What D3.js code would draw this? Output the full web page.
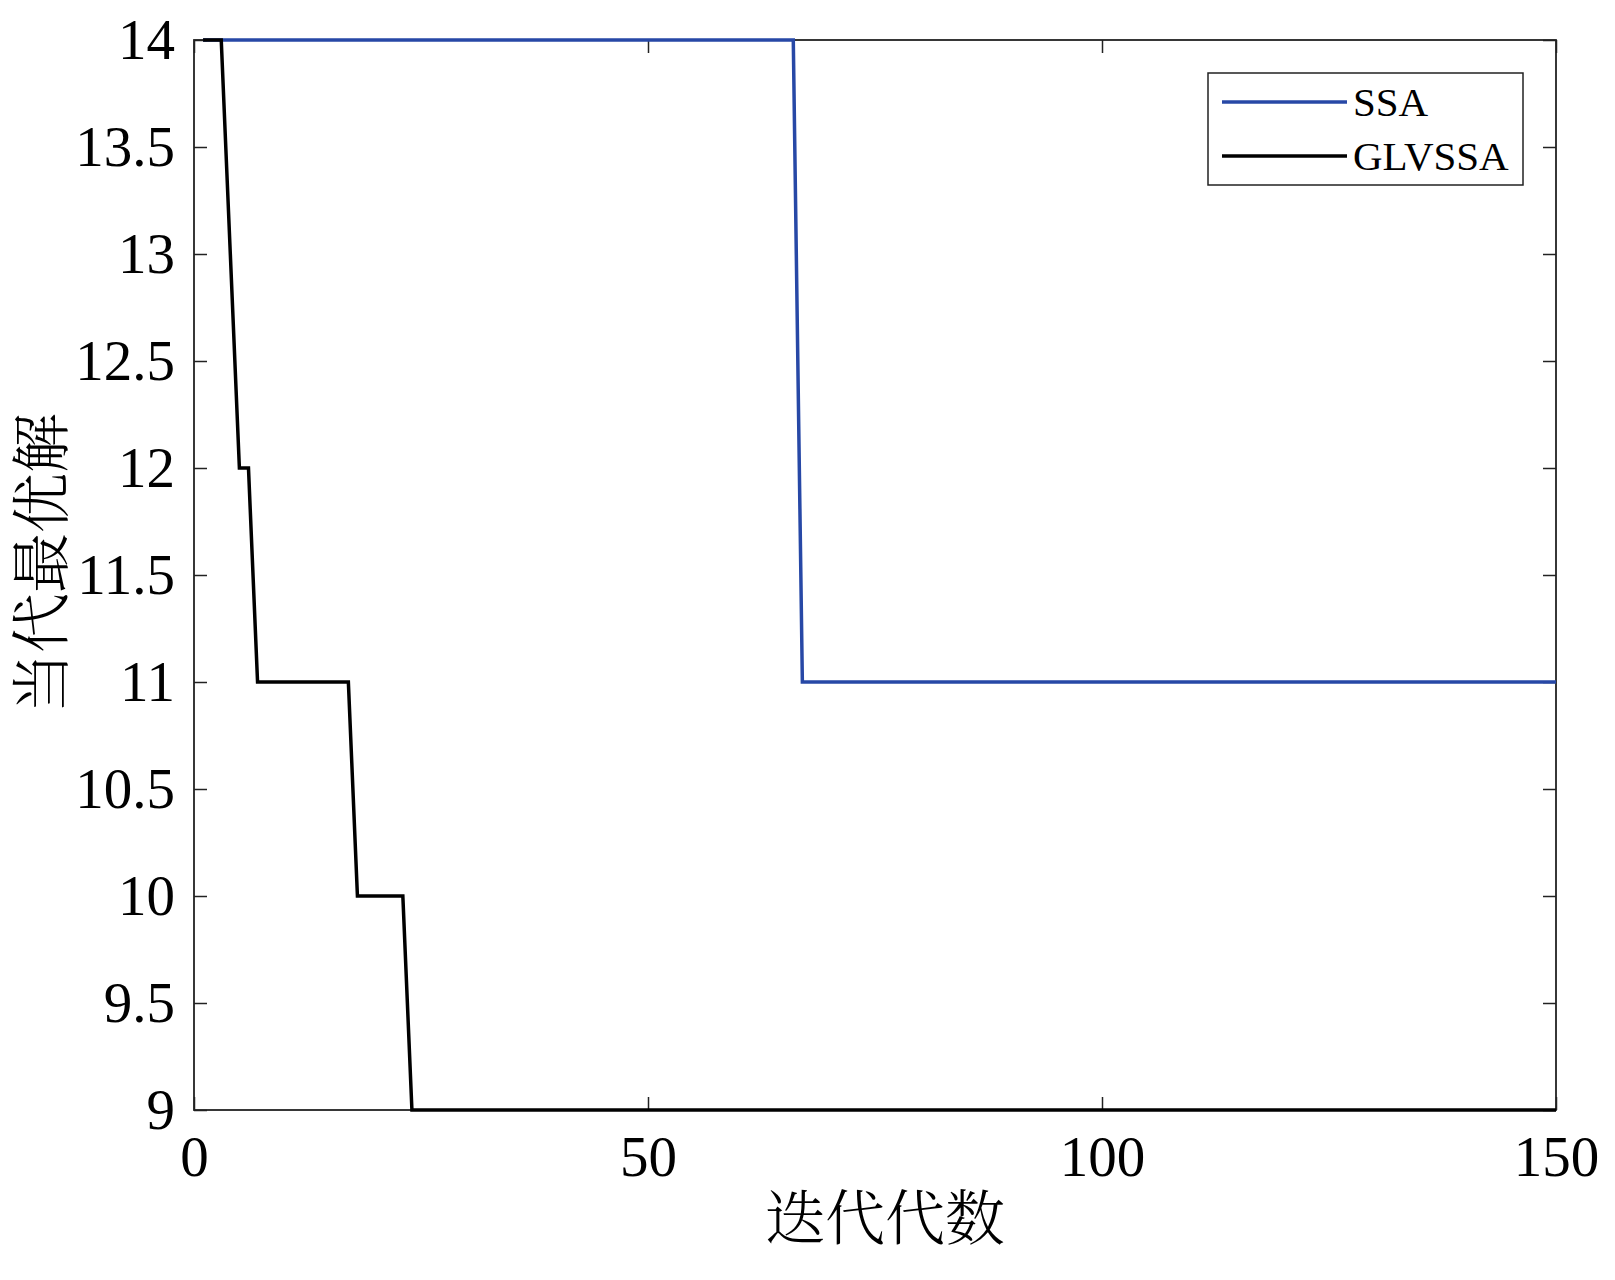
<!DOCTYPE html>
<html>
<head>
<meta charset="utf-8">
<script src="https://cdn.jsdelivr.net/npm/d3@7"></script>
<style>
  html, body { margin: 0; padding: 0; background: #fff; }
  svg { display: block; }
</style>
</head>
<body>
<svg id="chart" width="1615" height="1280"></svg>
<script>
// ---- data ----
const xTicks = [0, 50, 100, 150];
const yTicks = [9, 9.5, 10, 10.5, 11, 11.5, 12, 12.5, 13, 13.5, 14];
const seriesNames = ["SSA", "GLVSSA"];
const ssaIter = [1, 66, 67, 150];
const ssaVal  = [14, 14, 11, 11];
const glvIter = [1, 3, 4, 5, 6, 7, 17, 18, 23, 24, 150];
const glvVal  = [14, 14, 13, 12, 12, 11, 11, 10, 10, 9, 9];
const xTitle = "迭代代数";
const yTitle = "当代最优解";

// ---- layout ----
const L = 194, R = 1556, T = 40, B = 1110;
const svg = d3.select("#chart");
const x = d3.scaleLinear().domain([0, 150]).range([L, R]);
const y = d3.scaleLinear().domain([9, 14]).range([B, T]);
const serif = "'Liberation Serif', 'Times New Roman', serif";
const axisColor = "#222";
const tickLen = 13;

function styleAxis(g, showLabels) {
  g.select(".domain").remove();
  g.selectAll(".tick line").attr("stroke", axisColor).attr("stroke-width", 1.5);
  g.selectAll(".tick text")
    .attr("fill", "#000")
    .style("font-family", serif)
    .style("font-size", "57px");
  if (!showLabels) g.selectAll(".tick text").remove();
}

// bottom axis
svg.append("g").attr("transform", `translate(0,${B})`)
  .call(d3.axisBottom(x).tickValues(xTicks).tickFormat(d3.format("d"))
        .tickSizeInner(-tickLen).tickSizeOuter(0).tickPadding(26))
  .call(g => styleAxis(g, true));
// top axis (ticks only)
svg.append("g").attr("transform", `translate(0,${T})`)
  .call(d3.axisTop(x).tickValues(xTicks).tickSizeInner(-tickLen).tickSizeOuter(0))
  .call(g => styleAxis(g, false));
// left axis
svg.append("g").attr("transform", `translate(${L},0)`)
  .call(d3.axisLeft(y).tickValues(yTicks).tickFormat(d => String(d))
        .tickSizeInner(-tickLen).tickSizeOuter(0).tickPadding(19))
  .call(g => styleAxis(g, true));
// right axis (ticks only)
svg.append("g").attr("transform", `translate(${R},0)`)
  .call(d3.axisRight(y).tickValues(yTicks).tickSizeInner(-tickLen).tickSizeOuter(0))
  .call(g => styleAxis(g, false));

// frame
svg.append("rect")
  .attr("x", L).attr("y", T).attr("width", R - L).attr("height", B - T)
  .attr("fill", "none").attr("stroke", axisColor).attr("stroke-width", 1.8);

// lines
const colors = ["#2748a6", "#000000"];
const line = d3.line().x(d => x(d[0])).y(d => y(d[1]));
const ssaData = ssaIter.map((d, i) => [d, ssaVal[i]]);
const glvData = glvIter.map((d, i) => [d, glvVal[i]]);
[ssaData, glvData].forEach((data, i) => {
  svg.append("path").datum(data)
    .attr("d", line)
    .attr("fill", "none")
    .attr("stroke", colors[i])
    .attr("stroke-width", 3.5)
    .attr("stroke-linejoin", "miter");
});

// legend
const lg = svg.append("g");
lg.append("rect").attr("x", 1208).attr("y", 73).attr("width", 315).attr("height", 112)
  .attr("fill", "#fff").attr("stroke", axisColor).attr("stroke-width", 1.5);
seriesNames.forEach((name, i) => {
  const yy = 102 + i * 54;
  lg.append("line").attr("x1", 1222).attr("x2", 1347).attr("y1", yy).attr("y2", yy)
    .attr("stroke", colors[i]).attr("stroke-width", 3.5);
  lg.append("text").attr("x", 1353).attr("y", yy).attr("dy", "0.35em")
    .style("font-family", serif).style("font-size", "41px").attr("fill", "#000")
    .text(name);
});

// axis titles
const cjk = "'Noto Serif CJK SC', 'Noto Sans CJK SC', serif";
svg.append("text")
  .attr("x", (L + R) / 2 + 10).attr("y", 1240)
  .attr("text-anchor", "middle")
  .style("font-family", cjk).style("font-size", "60px").style("font-weight", 300)
  .attr("fill", "#000")
  .text(xTitle);
svg.append("text")
  .attr("transform", `translate(63,${(T + B) / 2 - 12}) rotate(-90)`)
  .attr("text-anchor", "middle")
  .style("font-family", cjk).style("font-size", "60px").style("font-weight", 300)
  .attr("fill", "#000")
  .text(yTitle);
</script>
</body>
</html>
